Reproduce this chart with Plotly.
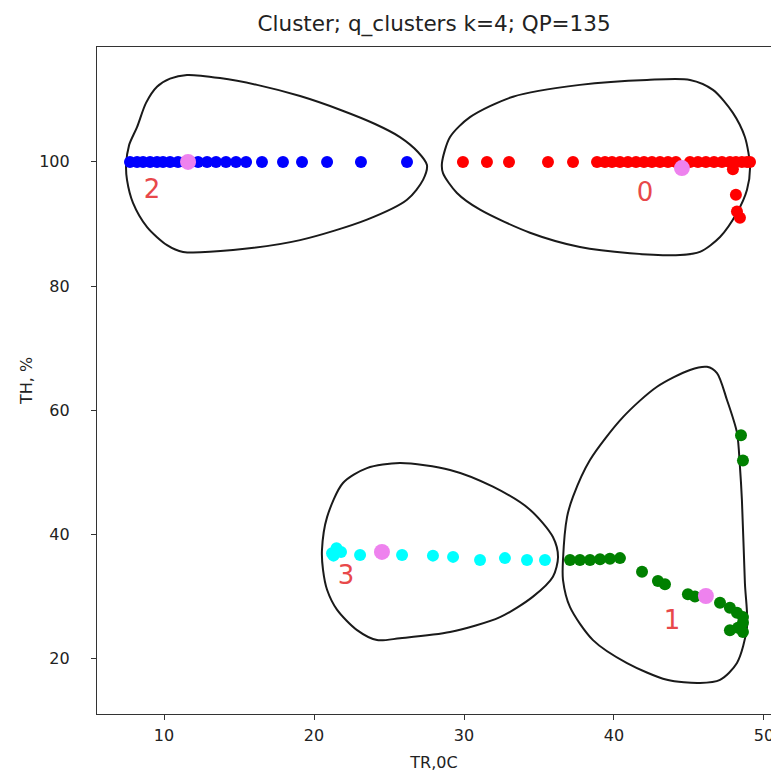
import plotly.graph_objects as go

# ---- data ----
c2_tr = [7.73, 8.2, 8.6, 9.07, 9.53, 9.93, 10.4, 10.93, 12.27, 12.87, 13.47, 14.13, 14.8, 15.47, 16.53, 17.93, 19.2, 20.87, 23.13, 26.2]
c2_th = [100] * len(c2_tr)

c0_tr = [29.93, 31.53, 33.0, 35.6, 37.27, 38.87, 39.4, 39.87, 40.4, 40.93, 41.47, 42.0, 42.53, 43.07, 43.6, 44.13,
         45.07, 45.6, 46.13, 46.67, 47.2, 47.73, 48.13, 48.53, 48.87, 49.07, 47.93, 48.13, 48.2, 48.4]
c0_th = [100] * 26 + [98.8, 94.7, 92.0, 91.0]

c1_tr = [37.07, 37.73, 38.4, 39.07, 39.73, 40.4, 41.87, 42.93, 43.4, 44.93, 45.4, 47.07, 47.73, 48.2, 48.6, 48.6,
         47.73, 48.6, 48.27, 48.47, 48.6]
c1_th = [35.9, 35.9, 35.9, 36.0, 36.1, 36.2, 34.0, 32.5, 32.0, 30.4, 30.0, 29.0, 28.2, 27.4, 26.7, 25.8,
         24.6, 24.3, 25.0, 56.0, 51.9]

c3_tr = [21.2, 21.5, 21.8, 21.3, 23.07, 25.87, 27.93, 29.27, 31.07, 32.73, 34.2, 35.4]
c3_th = [37.0, 37.8, 37.2, 36.6, 36.7, 36.7, 36.6, 36.4, 35.9, 36.2, 35.9, 35.9]

cent_tr = [44.53, 46.13, 11.6, 24.53]
cent_th = [99.0, 30.1, 100.0, 37.2]

label_text = ["0", "1", "2", "3"]
label_tr = [42.07, 43.87, 9.2, 22.13]
label_th = [94.7, 25.9, 95.3, 33.0]

# cluster boundary outlines (data units)
b0_tr = [28.53, 29.07, 30.4, 33.27, 37.73, 42.2, 45.07, 46.6, 47.93, 48.73, 49.07, 48.87, 48.2, 47.07, 45.73, 44.4,
         41.07, 37.73, 34.4, 31.07, 29.53, 28.6]
b0_th = [99.8, 104.0, 107.2, 110.5, 112.4, 113.2, 113.2, 111.6, 107.9, 104.0, 99.2, 95.5, 91.8, 87.9, 85.5, 85.0,
         85.3, 86.3, 88.6, 92.3, 95.0, 98.2]

b1_tr = [36.6, 36.87, 37.27, 38.4, 40.6, 42.87, 45.07, 46.2, 46.87, 47.53, 48.2, 48.4, 48.53, 48.73, 48.87, 48.2,
         47.07, 45.73, 43.53, 40.87, 38.6, 37.07, 36.6]
b1_th = [35.9, 42.8, 46.1, 52.0, 58.9, 63.8, 66.5, 67.0, 66.0, 61.7, 56.4, 50.9, 45.6, 32.2, 25.1, 19.3,
         16.6, 16.1, 16.6, 19.3, 23.0, 28.3, 32.7]

b2_tr = [7.47, 7.67, 8.2, 8.8, 9.53, 10.4, 11.53, 13.73, 16.2, 19.07, 21.73, 24.07, 25.73, 26.93, 27.53, 27.27,
         26.2, 23.53, 19.07, 14.6, 11.27, 10.2, 8.87, 7.93, 7.53]
b2_th = [99.5, 102.7, 105.6, 109.5, 112.1, 113.4, 114.0, 113.5, 112.4, 110.6, 108.4, 106.1, 104.0, 101.6, 99.5, 97.1,
         93.9, 90.7, 87.4, 85.8, 85.5, 86.6, 89.5, 93.4, 97.1]

b3_tr = [20.53, 20.87, 21.93, 23.53, 25.73, 29.07, 31.93, 34.4, 35.93, 36.27, 35.93, 34.6, 32.4, 29.07, 25.73, 24.2,
         22.87, 21.53, 20.87, 20.6]
b3_th = [37.5, 42.8, 48.3, 50.7, 51.5, 50.4, 47.7, 44.0, 39.6, 36.4, 33.2, 30.0, 26.7, 24.3, 23.3, 23.0,
         24.6, 27.9, 31.1, 34.3]

x_ticks = [10, 20, 30, 40, 50]
y_ticks = [20, 40, 60, 80, 100]

# ---- figure ----
fig = go.Figure()

def closed(a):
    return list(a) + [a[0]]

for tr, th in [(b0_tr, b0_th), (b1_tr, b1_th), (b2_tr, b2_th), (b3_tr, b3_th)]:
    fig.add_trace(go.Scatter(x=closed(tr), y=closed(th), mode="lines",
                             line=dict(color="#1a1a1a", width=2, shape="spline", smoothing=0.8),
                             hoverinfo="skip", showlegend=False))

for tr, th, col in [(c2_tr, c2_th, "#0000ff"), (c0_tr, c0_th, "#ff0000"),
                    (c1_tr, c1_th, "#008000"), (c3_tr, c3_th, "#00ffff")]:
    fig.add_trace(go.Scatter(x=tr, y=th, mode="markers",
                             marker=dict(color=col, size=12, line=dict(width=0)),
                             showlegend=False))

fig.add_trace(go.Scatter(x=cent_tr, y=cent_th, mode="markers",
                         marker=dict(color="#ee82ee", size=16, line=dict(width=0)),
                         showlegend=False))

fig.add_trace(go.Scatter(x=label_tr, y=label_th, mode="text", text=label_text,
                         textfont=dict(family="DejaVu Sans", size=26, color="#e8484a"),
                         showlegend=False))

axis_common = dict(showgrid=False, zeroline=False, showline=True, linecolor="#333333", linewidth=1.2,
                   mirror=True, ticks="outside", ticklen=5, tickcolor="#333333", automargin=False,
                   tickfont=dict(family="DejaVu Sans", size=16, color="#222222"))

fig.update_layout(
    width=779, height=776,
    margin=dict(l=89, r=16, t=39, b=70),
    paper_bgcolor="white", plot_bgcolor="white",
    title=dict(text="Cluster; q_clusters k=4; QP=135", x=0.547, xanchor="center", y=0.98, yanchor="middle",
               font=dict(family="DejaVu Sans", size=21.5, color="#222222")),
    xaxis=dict(range=[5.53, 50.47], tickvals=x_ticks,
               title=dict(text="TR,0C", standoff=12, font=dict(family="DejaVu Sans", size=16, color="#222222")),
               ticklabelstandoff=2, **axis_common),
    yaxis=dict(range=[11.1, 118.5], tickvals=y_ticks,
               title=dict(text="TH, %", standoff=2, font=dict(family="DejaVu Sans", size=16, color="#222222")),
               ticklabelstandoff=18, **axis_common),
)

fig.write_html("out.html")
